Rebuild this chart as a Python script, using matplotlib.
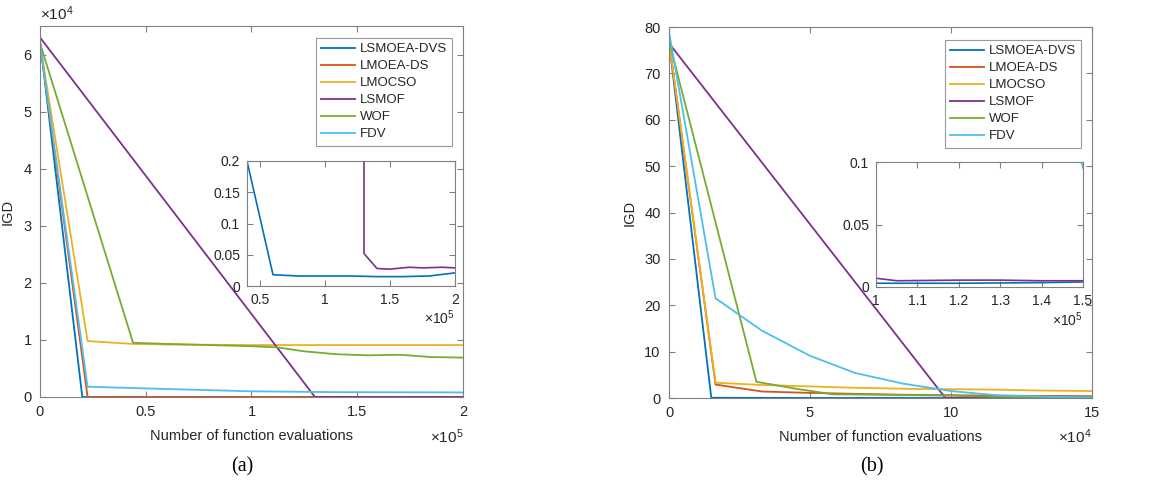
import numpy as np
import matplotlib
matplotlib.use('Agg')
import matplotlib.pyplot as plt

plt.rcParams['font.family'] = ['Liberation Sans', 'DejaVu Sans']
plt.rcParams['mathtext.fontset'] = 'custom'
plt.rcParams['mathtext.rm'] = 'Liberation Sans'
plt.rcParams['mathtext.it'] = 'Liberation Sans'

names = ['LSMOEA-DVS', 'LMOEA-DS', 'LMOCSO', 'LSMOF', 'WOF', 'FDV']
colors = ['#0072BD', '#D95319', '#EDB120', '#7E2F8E', '#77AC30', '#4DBEEE']

# ---- (a) ----
a_x = [
    [0, 20000, 40000, 60000, 80000, 100000, 120000, 140000, 160000, 180000, 200000],
    [0, 22500, 60000, 100000, 150000, 200000],
    [0, 22500, 44000, 60000, 100000, 150000, 200000],
    [0, 130000, 140000, 150000, 165000, 175000, 190000, 200000],
    [0, 44000, 60000, 80000, 100000, 112000, 125000, 140000, 155000, 170000, 185000, 200000],
    [0, 22500, 60000, 100000, 140000, 200000],
]
a_y = [
    [62500, 0.9, 0.2, 0.018, 0.016, 0.016, 0.016, 0.015, 0.015, 0.016, 0.021],
    [62000, 5, 5, 5, 5, 5],
    [62000, 9800, 9300, 9200, 9100, 9100, 9100],
    [63000, 0.052, 0.028, 0.027, 0.030, 0.029, 0.030, 0.029],
    [62000, 9500, 9300, 9100, 8900, 8700, 8000, 7500, 7300, 7400, 7000, 6900],
    [62000, 1800, 1400, 1000, 850, 800],
]

# ---- (b) ----
b_x = [
    [0, 15000, 50000, 100000, 120000, 140000, 150000],
    [0, 16500, 33000, 50000, 66000, 83000, 100000, 116000, 133000, 150000],
    [0, 16500, 33000, 50000, 66000, 83000, 100000, 116000, 133000, 150000],
    [0, 98000, 100000, 105000, 120000, 130000, 140000, 150000],
    [0, 31000, 45000, 58000, 75000, 100000, 116000, 133000, 150000],
    [0, 16500, 33000, 50000, 66000, 83000, 100000, 116000, 133000, 150000],
]
b_y = [
    [77, 0.05, 0.003, 0.003, 0.003, 0.0035, 0.004],
    [77, 2.9, 1.4, 1.1, 0.9, 0.7, 0.6, 0.5, 0.45, 0.4],
    [77, 3.3, 2.8, 2.5, 2.2, 2.0, 1.9, 1.8, 1.6, 1.5],
    [76.5, 0.008, 0.007, 0.005, 0.0055, 0.0055, 0.005, 0.005],
    [77, 3.5, 2.0, 0.8, 0.7, 0.5, 0.25, 0.2, 0.2],
    [79, 21.5, 14.5, 9.1, 5.4, 3.1, 1.5, 0.6, 0.3, 0.095],
]

W, H = 1159, 484
fig = plt.figure(figsize=(W / 100, H / 100), dpi=100)

def box(x0, y0, x1, y1):
    return [x0 / W, 1 - y1 / H, (x1 - x0) / W, (y1 - y0) / H]

def ptxt(x, y, s, **kw):
    fig.text(x / W, 1 - y / H, s, **kw)

spine_c = '#808080'
lab_c = '#262626'

def style(ax, fs=10, pad=5):
    for s in ax.spines.values():
        s.set_color(spine_c)
        s.set_linewidth(0.8)
    ax.tick_params(direction='in', top=True, right=True, length=4, width=0.8,
                   color=spine_c, labelcolor=lab_c, labelsize=fs, pad=pad)

def draw(ax, xs, ys, lw):
    for x, y, c, n in zip(xs, ys, colors, names):
        ax.plot(x, y, color=c, lw=lw, label=n)

def add_legend(ax, top):
    leg = ax.legend(loc='upper right', bbox_to_anchor=(0.975, top), borderaxespad=0,
                    fancybox=False, edgecolor=spine_c, fontsize=9.5, handlelength=2.6,
                    labelspacing=0.36, handletextpad=0.35, borderpad=0.4)
    leg.get_frame().set_linewidth(0.8)
    for t in leg.get_texts():
        t.set_color(lab_c)

# main (a)
ax1 = fig.add_axes(box(40, 26, 463, 397))
draw(ax1, a_x, a_y, 1.3)
ax1.set_xlim(0, 200000)
ax1.set_ylim(0, 65000)
ax1.set_xticks([0, 50000, 100000, 150000, 200000])
ax1.set_xticklabels(['0', '0.5', '1', '1.5', '2'])
ax1.set_yticks(np.arange(0, 70000, 10000))
ax1.set_yticklabels([str(i) for i in range(7)])
style(ax1, 10.5, 6)
ax1.set_xlabel('Number of function evaluations', fontsize=10.5, color=lab_c, labelpad=7)
ax1.set_ylabel('IGD', fontsize=10.5, color=lab_c)
ax1.yaxis.set_label_coords(-0.06, 0.5)
add_legend(ax1, 0.968)

# inset (a)
ia = fig.add_axes(box(247, 161, 455, 286))
draw(ia, a_x, a_y, 1.2)
ia.set_xlim(40000, 200000)
ia.set_ylim(0, 0.2)
ia.set_xticks([50000, 100000, 150000, 200000])
ia.set_xticklabels(['0.5', '1', '1.5', '2'])
ia.set_yticks([0, 0.05, 0.1, 0.15, 0.2])
ia.set_yticklabels(['0', '0.05', '0.1', '0.15', '0.2'])
style(ia, 10)

# main (b)
ax2 = fig.add_axes(box(669, 27, 1092, 398))
draw(ax2, b_x, b_y, 1.3)
ax2.set_xlim(0, 150000)
ax2.set_ylim(0, 80)
ax2.set_xticks([0, 50000, 100000, 150000])
ax2.set_xticklabels(['0', '5', '10', '15'])
ax2.set_yticks(np.arange(0, 90, 10))
style(ax2, 10.5, 6)
ax2.set_xlabel('Number of function evaluations', fontsize=10.5, color=lab_c, labelpad=7)
ax2.set_ylabel('IGD', fontsize=10.5, color=lab_c)
ax2.yaxis.set_label_coords(-0.076, 0.5)
add_legend(ax2, 0.965)

# inset (b)
ib = fig.add_axes(box(876, 162, 1083, 287))
draw(ib, b_x, b_y, 1.2)
ib.set_xlim(100000, 150000)
ib.set_ylim(0, 0.1)
ib.set_xticks([100000, 110000, 120000, 130000, 140000, 150000])
ib.set_xticklabels(['1', '1.1', '1.2', '1.3', '1.4', '1.5'])
ib.set_yticks([0, 0.05, 0.1])
ib.set_yticklabels(['0', '0.05', '0.1'])
style(ib, 10)

# exponent labels
ptxt(40, 14, r'$\times10^{4}$', fontsize=11, color=lab_c, va='center', ha='left')
ptxt(463, 437, r'$\times10^{5}$', fontsize=11, color=lab_c, va='center', ha='right')
ptxt(455, 318, r'$\times10^{5}$', fontsize=10, color=lab_c, va='center', ha='right')
ptxt(1092, 437, r'$\times10^{4}$', fontsize=11, color=lab_c, va='center', ha='right')
ptxt(1083, 320, r'$\times10^{5}$', fontsize=10, color=lab_c, va='center', ha='right')

ptxt(242, 467, '(a)', fontsize=14.5, family='Liberation Serif', ha='center', va='center')
ptxt(872, 467, '(b)', fontsize=14.5, family='Liberation Serif', ha='center', va='center')

fig.savefig('out.png', dpi=100)
